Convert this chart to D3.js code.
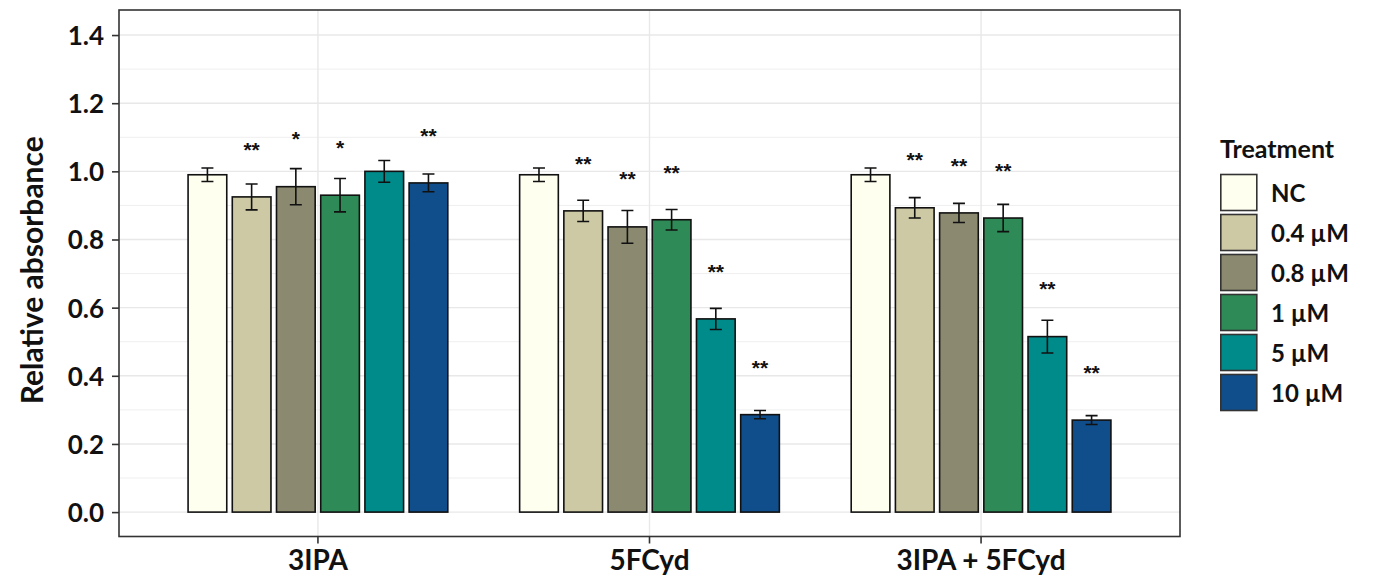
<!DOCTYPE html>
<html>
<head>
<meta charset="utf-8">
<script src="https://cdn.jsdelivr.net/npm/d3@7"></script>
<style>
  html, body { margin: 0; padding: 0; background: #fff; }
  svg { display: block; font-family: Lato, "Open Sans", sans-serif; font-weight: bold; }
</style>
</head>
<body>
<div id="chart"></div>
<script>
// groups on the x axis and the treatment levels inside each group
var groups = ["3IPA", "5FCyd", "3IPA + 5FCyd"];
var treatments = ["NC", "0.4 µM", "0.8 µM", "1 µM", "5 µM", "10 µM"];
var colors = ["#FFFFF0", "#CDC9A5", "#8B8970", "#2E8B57", "#008B8B", "#104E8B"];

// mean relative absorbance per treatment
var mean3IPA = [0.990, 0.925, 0.955, 0.930, 1.000, 0.966];
var mean5FCyd = [0.990, 0.884, 0.837, 0.858, 0.567, 0.286];
var meanCombo = [0.990, 0.893, 0.878, 0.863, 0.515, 0.270];

// error bar half-widths
var err3IPA = [0.020, 0.038, 0.053, 0.049, 0.032, 0.026];
var err5FCyd = [0.020, 0.031, 0.048, 0.030, 0.031, 0.012];
var errCombo = [0.020, 0.030, 0.028, 0.040, 0.048, 0.013];

// significance marks and the height they sit at
var sig3IPA = ["", "**", "*", "*", "", "**"];
var sig5FCyd = ["", "**", "**", "**", "**", "**"];
var sigCombo = ["", "**", "**", "**", "**", "**"];
var sigY3IPA = [null, 1.074, 1.107, 1.080, null, 1.115];
var sigY5FCyd = [null, 1.033, 0.988, 1.008, 0.717, 0.436];
var sigYCombo = [null, 1.045, 1.027, 1.013, 0.666, 0.421];

var yTicks = [0, 0.2, 0.4, 0.6, 0.8, 1.0, 1.2, 1.4];
var yMinor = [0.1, 0.3, 0.5, 0.7, 0.9, 1.1, 1.3];

var means = [mean3IPA, mean5FCyd, meanCombo];
var errs = [err3IPA, err5FCyd, errCombo];
var sigs = [sig3IPA, sig5FCyd, sigCombo];
var sigYs = [sigY3IPA, sigY5FCyd, sigYCombo];

var rows = [];
groups.forEach(function (g, gi) {
    treatments.forEach(function (t, ti) {
        rows.push({group: g, treatment: t, mean: means[gi][ti], err: errs[gi][ti],
                   sig: sigs[gi][ti], sigY: sigYs[gi][ti], color: colors[ti]});
    });
});

var width = 1374;
var height = 577;
var panel = {left: 119, right: 1180, top: 10, bottom: 536.5};

var svg = d3.select("#chart").append("svg")
    .attr("width", width)
    .attr("height", height);

svg.append("rect").attr("width", width).attr("height", height).attr("fill", "#fff");

var x0 = d3.scaleBand()
    .domain(groups)
    .range([panel.left, panel.right])
    .paddingInner(0)
    .paddingOuter(0.1);

var step = x0.step();
var x1 = d3.scaleBand()
    .domain(treatments)
    .range([-0.4 * step, 0.4 * step]);
var barW = x1.bandwidth() * 0.875;

var y = d3.scaleLinear()
    .domain([-0.0716, 1.4735])
    .range([panel.bottom, panel.top]);

// grid
var grid = svg.append("g");
grid.selectAll("line.minor")
    .data(yMinor).enter().append("line")
    .attr("class", "minor")
    .attr("x1", panel.left).attr("x2", panel.right)
    .attr("y1", function (d) { return y(d); })
    .attr("y2", function (d) { return y(d); })
    .attr("stroke", "#efefef").attr("stroke-width", 1);
grid.selectAll("line.major")
    .data(yTicks).enter().append("line")
    .attr("class", "major")
    .attr("x1", panel.left).attr("x2", panel.right)
    .attr("y1", function (d) { return y(d); })
    .attr("y2", function (d) { return y(d); })
    .attr("stroke", "#e8e8e8").attr("stroke-width", 1.4);
grid.selectAll("line.vmajor")
    .data(groups).enter().append("line")
    .attr("class", "vmajor")
    .attr("x1", function (d) { return x0(d) + step / 2; })
    .attr("x2", function (d) { return x0(d) + step / 2; })
    .attr("y1", panel.top).attr("y2", panel.bottom)
    .attr("stroke", "#e8e8e8").attr("stroke-width", 1.4);

// bars
var cx = function (d) { return x0(d.group) + step / 2 + x1(d.treatment) + x1.bandwidth() / 2; };

svg.append("g").selectAll("rect")
    .data(rows).enter().append("rect")
    .attr("x", function (d) { return cx(d) - barW / 2; })
    .attr("y", function (d) { return y(d.mean); })
    .attr("width", barW)
    .attr("height", function (d) { return y(0) - y(d.mean); })
    .attr("fill", function (d) { return d.color; })
    .attr("stroke", "#111")
    .attr("stroke-width", 1.6);

// error bars
var capW = 12;
var eb = svg.append("g").attr("stroke", "#111").attr("stroke-width", 1.6).attr("fill", "none");
eb.selectAll("path")
    .data(rows).enter().append("path")
    .attr("d", function (d) {
        var c = cx(d), hi = y(d.mean + d.err), lo = y(d.mean - d.err);
        return "M" + (c - capW / 2) + "," + hi + "H" + (c + capW / 2) +
               "M" + c + "," + hi + "V" + lo +
               "M" + (c - capW / 2) + "," + lo + "H" + (c + capW / 2);
    });

// significance stars
svg.append("g").selectAll("text")
    .data(rows.filter(function (d) { return d.sig; })).enter().append("text")
    .attr("x", function (d) { return cx(d); })
    .attr("y", function (d) { return y(d.sigY) + 11; })
    .attr("text-anchor", "middle")
    .attr("font-family", "Liberation Sans, Arial, sans-serif")
    .attr("font-weight", "bold")
    .attr("font-size", 21)
    .attr("fill", "#111")
    .text(function (d) { return d.sig; });

// panel border
svg.append("rect")
    .attr("x", panel.left).attr("y", panel.top)
    .attr("width", panel.right - panel.left).attr("height", panel.bottom - panel.top)
    .attr("fill", "none").attr("stroke", "#333").attr("stroke-width", 1.6);

// axes
var yAxis = svg.append("g")
    .attr("transform", "translate(" + panel.left + ",0)")
    .call(d3.axisLeft(y).tickValues(yTicks).tickFormat(d3.format(".1f")).tickSize(7).tickPadding(8));
yAxis.select(".domain").remove();
yAxis.selectAll(".tick line").attr("stroke", "#333").attr("stroke-width", 1.6);
yAxis.selectAll(".tick text")
    .attr("font-size", 26).attr("font-family", "Lato, sans-serif").attr("font-weight", "bold")
    .attr("fill", "#111").attr("dy", "0.36em");

var xAxis = svg.append("g")
    .attr("transform", "translate(0," + panel.bottom + ")")
    .call(d3.axisBottom(x0).tickSize(7).tickPadding(6));
xAxis.select(".domain").remove();
xAxis.selectAll(".tick line").attr("stroke", "#333").attr("stroke-width", 1.6);
xAxis.selectAll(".tick text")
    .attr("font-size", 28).attr("font-family", "Lato, sans-serif").attr("font-weight", "bold")
    .attr("fill", "#111").attr("dy", "0.72em");

// y title
svg.append("text")
    .attr("transform", "translate(43," + ((panel.top + panel.bottom) / 2 - 3) + ") rotate(-90)")
    .attr("text-anchor", "middle")
    .attr("font-size", 30)
    .attr("fill", "#111")
    .text("Relative absorbance");

// legend
var legend = svg.append("g").attr("transform", "translate(1220,0)");
legend.append("text")
    .attr("x", 0).attr("y", 158)
    .attr("font-size", 25)
    .attr("fill", "#111")
    .text("Treatment");

var ly = d3.scaleBand().domain(treatments).range([173, 173 + 40 * treatments.length]);
var keys = legend.selectAll("g.key")
    .data(treatments).enter().append("g")
    .attr("class", "key")
    .attr("transform", function (d) { return "translate(0," + ly(d) + ")"; });
keys.append("rect")
    .attr("x", 0.8).attr("y", 1.5)
    .attr("width", 36).attr("height", 36)
    .attr("fill", function (d, i) { return colors[i]; })
    .attr("stroke", "#333").attr("stroke-width", 1.6);
keys.append("text")
    .attr("x", 51).attr("y", 20)
    .attr("dy", "0.36em")
    .attr("font-size", 24)
    .attr("fill", "#111")
    .text(function (d) { return d; });
</script>
</body>
</html>
